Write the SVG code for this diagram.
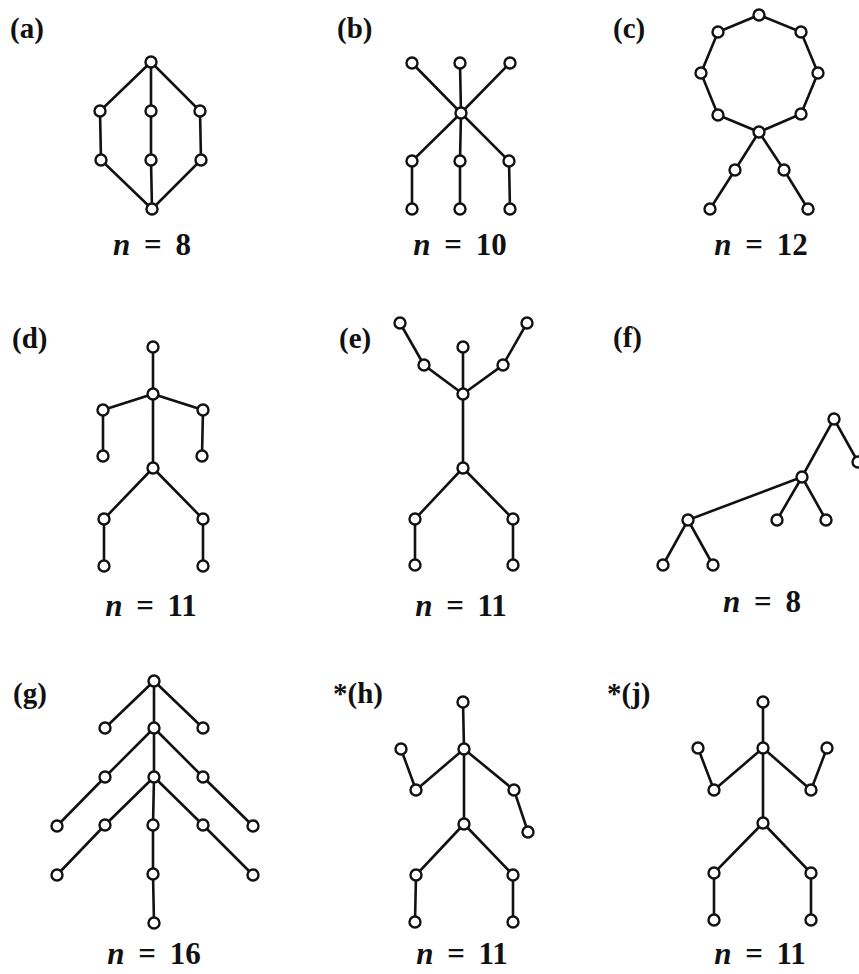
<svg xmlns="http://www.w3.org/2000/svg" width="859" height="974" viewBox="0 0 859 974">
<style>
.e{stroke:#111;stroke-width:2.6;fill:none;stroke-linecap:round}
.node circle{fill:#fff;stroke:#111;stroke-width:2.4}
.lbl{font-family:"Liberation Serif","DejaVu Serif",serif;font-size:29px;font-weight:bold;fill:#111}
.n{font-family:"Liberation Serif","DejaVu Serif",serif;font-size:31px;font-weight:bold;fill:#111;text-anchor:middle;word-spacing:6px}
.n tspan.i{font-style:italic}
</style>
<rect width="859" height="974" fill="#fff"/>
<g id="connectors" class="e">
<!-- a -->
<path d="M151,62L100,111L101,160L152,209M151,62L151,111L151,160L152,209M151,62L200,111L201,160L152,209"/>
<!-- b -->
<path d="M461,113L412,63M461,113L460,63M461,113L510,63M461,113L412,161L412,209M461,113L460,161L460,209M461,113L509,161L510,209"/>
<!-- c -->
<path d="M759,15L801,32L818,73L801,114L759,132L718,115L701,73L718,32Z"/>
<path d="M759,132L735,170L710,209M759,132L784,170L808,209"/>
<!-- d -->
<path d="M153,347L153,394L153,468M153,394L103,410L103,456M153,394L203,410L202,456M153,468L104,519L104,566M153,468L203,519L203,566"/>
<!-- e -->
<path d="M400,323L424,365L463,394M463,347L463,394M527,323L503,365L463,394M463,394L463,468L415,519L415,565M463,468L513,519L513,565"/>
<!-- f -->
<path d="M858,462L834,419L802,477L688,520L663,565M688,520L713,565M802,477L777,520M802,477L826,520"/>
<!-- g -->
<path d="M154,681L154,728L154,777L153,825L153,874L154,923M154,681L105,728M154,681L203,728M154,728L105,777L57,826M154,728L203,777L253,826M154,777L105,825L57,875M154,777L203,825L253,875"/>
<!-- h -->
<path d="M463,702L464,749L464,824M464,749L416,790L401,749M464,749L514,790L528,832M464,824L416,875L415,922M464,824L513,875L513,922"/>
<!-- j -->
<path d="M763,702L763,748L763,823M763,748L714,790L698,748M763,748L811,790L827,748M763,823L714,873L714,920M763,823L811,873L811,920"/>
</g>
<g id="nodes-a">
<g id="a1" class="node"><circle cx="151" cy="62" r="5.5"/></g>
<g id="a2" class="node"><circle cx="100" cy="111" r="5.5"/></g>
<g id="a3" class="node"><circle cx="151" cy="111" r="5.5"/></g>
<g id="a4" class="node"><circle cx="200" cy="111" r="5.5"/></g>
<g id="a5" class="node"><circle cx="101" cy="160" r="5.5"/></g>
<g id="a6" class="node"><circle cx="151" cy="160" r="5.5"/></g>
<g id="a7" class="node"><circle cx="201" cy="160" r="5.5"/></g>
<g id="a8" class="node"><circle cx="152" cy="209" r="5.5"/></g>
</g>
<g id="nodes-b">
<g id="b1" class="node"><circle cx="412" cy="63" r="5.5"/></g>
<g id="b2" class="node"><circle cx="460" cy="63" r="5.5"/></g>
<g id="b3" class="node"><circle cx="510" cy="63" r="5.5"/></g>
<g id="b4" class="node"><circle cx="461" cy="113" r="5.5"/></g>
<g id="b5" class="node"><circle cx="412" cy="161" r="5.5"/></g>
<g id="b6" class="node"><circle cx="460" cy="161" r="5.5"/></g>
<g id="b7" class="node"><circle cx="509" cy="161" r="5.5"/></g>
<g id="b8" class="node"><circle cx="412" cy="209" r="5.5"/></g>
<g id="b9" class="node"><circle cx="460" cy="209" r="5.5"/></g>
<g id="b10" class="node"><circle cx="510" cy="209" r="5.5"/></g>
</g>
<g id="nodes-c">
<g id="c1" class="node"><circle cx="759" cy="15" r="5.5"/></g>
<g id="c2" class="node"><circle cx="801" cy="32" r="5.5"/></g>
<g id="c3" class="node"><circle cx="818" cy="73" r="5.5"/></g>
<g id="c4" class="node"><circle cx="801" cy="114" r="5.5"/></g>
<g id="c5" class="node"><circle cx="759" cy="132" r="5.5"/></g>
<g id="c6" class="node"><circle cx="718" cy="115" r="5.5"/></g>
<g id="c7" class="node"><circle cx="701" cy="73" r="5.5"/></g>
<g id="c8" class="node"><circle cx="718" cy="32" r="5.5"/></g>
<g id="c9" class="node"><circle cx="735" cy="170" r="5.5"/></g>
<g id="c10" class="node"><circle cx="710" cy="209" r="5.5"/></g>
<g id="c11" class="node"><circle cx="784" cy="170" r="5.5"/></g>
<g id="c12" class="node"><circle cx="808" cy="209" r="5.5"/></g>
</g>
<g id="nodes-d">
<g id="d1" class="node"><circle cx="153" cy="347" r="5.5"/></g>
<g id="d2" class="node"><circle cx="153" cy="394" r="5.5"/></g>
<g id="d3" class="node"><circle cx="103" cy="410" r="5.5"/></g>
<g id="d4" class="node"><circle cx="203" cy="410" r="5.5"/></g>
<g id="d5" class="node"><circle cx="103" cy="456" r="5.5"/></g>
<g id="d6" class="node"><circle cx="202" cy="456" r="5.5"/></g>
<g id="d7" class="node"><circle cx="153" cy="468" r="5.5"/></g>
<g id="d8" class="node"><circle cx="104" cy="519" r="5.5"/></g>
<g id="d9" class="node"><circle cx="203" cy="519" r="5.5"/></g>
<g id="d10" class="node"><circle cx="104" cy="566" r="5.5"/></g>
<g id="d11" class="node"><circle cx="203" cy="566" r="5.5"/></g>
</g>
<g id="nodes-e">
<g id="e1" class="node"><circle cx="400" cy="323" r="5.5"/></g>
<g id="e2" class="node"><circle cx="463" cy="347" r="5.5"/></g>
<g id="e3" class="node"><circle cx="527" cy="323" r="5.5"/></g>
<g id="e4" class="node"><circle cx="424" cy="365" r="5.5"/></g>
<g id="e5" class="node"><circle cx="503" cy="365" r="5.5"/></g>
<g id="e6" class="node"><circle cx="463" cy="394" r="5.5"/></g>
<g id="e7" class="node"><circle cx="463" cy="468" r="5.5"/></g>
<g id="e8" class="node"><circle cx="415" cy="519" r="5.5"/></g>
<g id="e9" class="node"><circle cx="513" cy="519" r="5.5"/></g>
<g id="e10" class="node"><circle cx="415" cy="565" r="5.5"/></g>
<g id="e11" class="node"><circle cx="513" cy="565" r="5.5"/></g>
</g>
<g id="nodes-f">
<g id="f1" class="node"><circle cx="834" cy="419" r="5.5"/></g>
<g id="f2" class="node"><circle cx="858" cy="462" r="5.5"/></g>
<g id="f3" class="node"><circle cx="802" cy="477" r="5.5"/></g>
<g id="f4" class="node"><circle cx="777" cy="520" r="5.5"/></g>
<g id="f5" class="node"><circle cx="826" cy="520" r="5.5"/></g>
<g id="f6" class="node"><circle cx="688" cy="520" r="5.5"/></g>
<g id="f7" class="node"><circle cx="663" cy="565" r="5.5"/></g>
<g id="f8" class="node"><circle cx="713" cy="565" r="5.5"/></g>
</g>
<g id="nodes-g">
<g id="g1" class="node"><circle cx="154" cy="681" r="5.5"/></g>
<g id="g2" class="node"><circle cx="105" cy="728" r="5.5"/></g>
<g id="g3" class="node"><circle cx="154" cy="728" r="5.5"/></g>
<g id="g4" class="node"><circle cx="203" cy="728" r="5.5"/></g>
<g id="g5" class="node"><circle cx="105" cy="777" r="5.5"/></g>
<g id="g6" class="node"><circle cx="154" cy="777" r="5.5"/></g>
<g id="g7" class="node"><circle cx="203" cy="777" r="5.5"/></g>
<g id="g8" class="node"><circle cx="57" cy="826" r="5.5"/></g>
<g id="g9" class="node"><circle cx="105" cy="825" r="5.5"/></g>
<g id="g10" class="node"><circle cx="153" cy="825" r="5.5"/></g>
<g id="g11" class="node"><circle cx="203" cy="825" r="5.5"/></g>
<g id="g12" class="node"><circle cx="253" cy="826" r="5.5"/></g>
<g id="g13" class="node"><circle cx="57" cy="875" r="5.5"/></g>
<g id="g14" class="node"><circle cx="153" cy="874" r="5.5"/></g>
<g id="g15" class="node"><circle cx="253" cy="875" r="5.5"/></g>
<g id="g16" class="node"><circle cx="154" cy="923" r="5.5"/></g>
</g>
<g id="nodes-h">
<g id="h1" class="node"><circle cx="463" cy="702" r="5.5"/></g>
<g id="h2" class="node"><circle cx="464" cy="749" r="5.5"/></g>
<g id="h3" class="node"><circle cx="401" cy="749" r="5.5"/></g>
<g id="h4" class="node"><circle cx="416" cy="790" r="5.5"/></g>
<g id="h5" class="node"><circle cx="514" cy="790" r="5.5"/></g>
<g id="h6" class="node"><circle cx="528" cy="832" r="5.5"/></g>
<g id="h7" class="node"><circle cx="464" cy="824" r="5.5"/></g>
<g id="h8" class="node"><circle cx="416" cy="875" r="5.5"/></g>
<g id="h9" class="node"><circle cx="513" cy="875" r="5.5"/></g>
<g id="h10" class="node"><circle cx="415" cy="922" r="5.5"/></g>
<g id="h11" class="node"><circle cx="513" cy="922" r="5.5"/></g>
</g>
<g id="nodes-j">
<g id="j1" class="node"><circle cx="763" cy="702" r="5.5"/></g>
<g id="j2" class="node"><circle cx="763" cy="748" r="5.5"/></g>
<g id="j3" class="node"><circle cx="698" cy="748" r="5.5"/></g>
<g id="j4" class="node"><circle cx="714" cy="790" r="5.5"/></g>
<g id="j5" class="node"><circle cx="827" cy="748" r="5.5"/></g>
<g id="j6" class="node"><circle cx="811" cy="790" r="5.5"/></g>
<g id="j7" class="node"><circle cx="763" cy="823" r="5.5"/></g>
<g id="j8" class="node"><circle cx="714" cy="873" r="5.5"/></g>
<g id="j9" class="node"><circle cx="811" cy="873" r="5.5"/></g>
<g id="j10" class="node"><circle cx="714" cy="920" r="5.5"/></g>
<g id="j11" class="node"><circle cx="811" cy="920" r="5.5"/></g>
</g>
<g id="labels">
<text class="lbl" x="10" y="38">(a)</text>
<text class="lbl" x="337" y="38">(b)</text>
<text class="lbl" x="613" y="38">(c)</text>
<text class="lbl" x="12" y="348">(d)</text>
<text class="lbl" x="339" y="348">(e)</text>
<text class="lbl" x="613" y="347">(f)</text>
<text class="lbl" x="13" y="703">(g)</text>
<text class="lbl" x="333" y="703">*(h)</text>
<text class="lbl" x="607" y="703">*(j)</text>
<text class="n" x="152" y="255"><tspan class="i">n</tspan> = 8</text>
<text class="n" x="460" y="255"><tspan class="i">n</tspan> = 10</text>
<text class="n" x="761" y="255"><tspan class="i">n</tspan> = 12</text>
<text class="n" x="151" y="616"><tspan class="i">n</tspan> = 11</text>
<text class="n" x="461" y="616"><tspan class="i">n</tspan> = 11</text>
<text class="n" x="762" y="612"><tspan class="i">n</tspan> = 8</text>
<text class="n" x="154" y="964"><tspan class="i">n</tspan> = 16</text>
<text class="n" x="462" y="964"><tspan class="i">n</tspan> = 11</text>
<text class="n" x="760" y="964"><tspan class="i">n</tspan> = 11</text>
</g>
</svg>
